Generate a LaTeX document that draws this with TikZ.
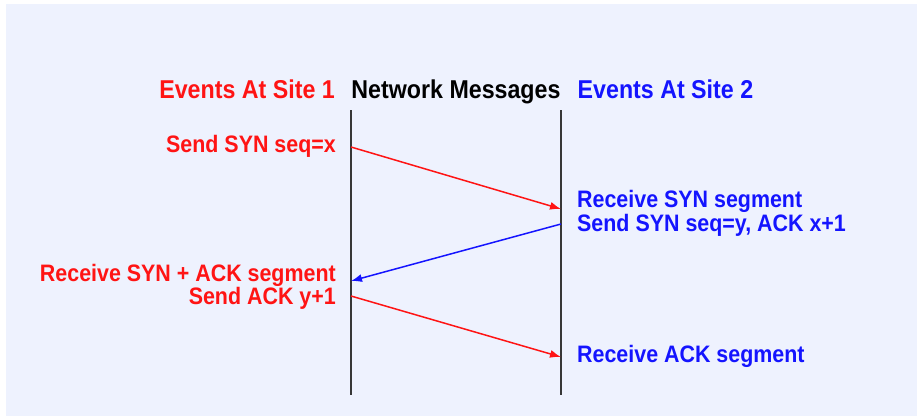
\documentclass[tikz,border=0pt]{standalone}
\usepackage{fontspec}
\setmainfont{Liberation Sans}[FakeStretch=0.9]
\usetikzlibrary{arrows.meta}
\definecolor{panelbg}{RGB}{238,242,254}
\definecolor{siteone}{RGB}{255,20,20}
\definecolor{sitetwo}{RGB}{20,20,255}
\definecolor{lifeline}{RGB}{55,55,55}
\tikzset{
  heading/.style={inner sep=0pt, font=\bfseries\fontsize{25.8}{28}\selectfont},
  evt/.style={inner sep=0pt, font=\bfseries\fontsize{23.8}{26}\selectfont},
  lifelinestyle/.style={draw=lifeline, line width=2.2pt},
  msg/.style={line width=1.5pt, -{Latex[length=11pt,width=8pt]}},
}
\begin{document}
\begin{tikzpicture}[x=1pt,y=-1pt]
\useasboundingbox (0,0) rectangle (917,416);
% panel background
\fill[panelbg] (6,4) rectangle (917,416);

% column headings
\node[heading, text=siteone, anchor=base east] (h1) at (335,98.3) {Events At Site 1};
\node[heading, anchor=base] (hn) at (456,98.3) {Network Messages};
\node[heading, text=sitetwo, anchor=base west] (h2) at (577.5,98.3) {Events At Site 2};

% lifelines
\coordinate (l1top) at (351,110);
\coordinate (l1bot) at (351,395);
\coordinate (l2top) at (561,110);
\coordinate (l2bot) at (561,395);
\draw[lifelinestyle] (l1top) -- (l1bot);
\draw[lifelinestyle] (l2top) -- (l2bot);

% events at site 1
\node[evt, text=siteone, anchor=base east] (s1) at (336,152.7) {Send SYN seq=x};
\node[evt, text=siteone, anchor=base east] (r2) at (336,281.5) {Receive SYN + ACK segment};
\node[evt, text=siteone, anchor=base east] (s3) at (336,304.5) {Send ACK y+1};

% events at site 2
\node[evt, text=sitetwo, anchor=base west] (r1) at (577,207.7) {Receive SYN segment};
\node[evt, text=sitetwo, anchor=base west] (s2) at (577,231.7) {Send SYN seq=y, ACK x+1};
\node[evt, text=sitetwo, anchor=base west] (r3) at (577,362.7) {Receive ACK segment};

% message end points on the lifelines
\coordinate (m1a) at (351,147);
\coordinate (m1b) at (561,209);
\coordinate (m2a) at (561,224);
\coordinate (m2b) at (351,281);
\coordinate (m3a) at (351,296);
\coordinate (m3b) at (561,357);

% messages
\draw[msg, siteone] (m1a) -- (m1b);
\draw[msg, sitetwo] (m2a) -- (m2b);
\draw[msg, siteone] (m3a) -- (m3b);
\end{tikzpicture}
\end{document}
